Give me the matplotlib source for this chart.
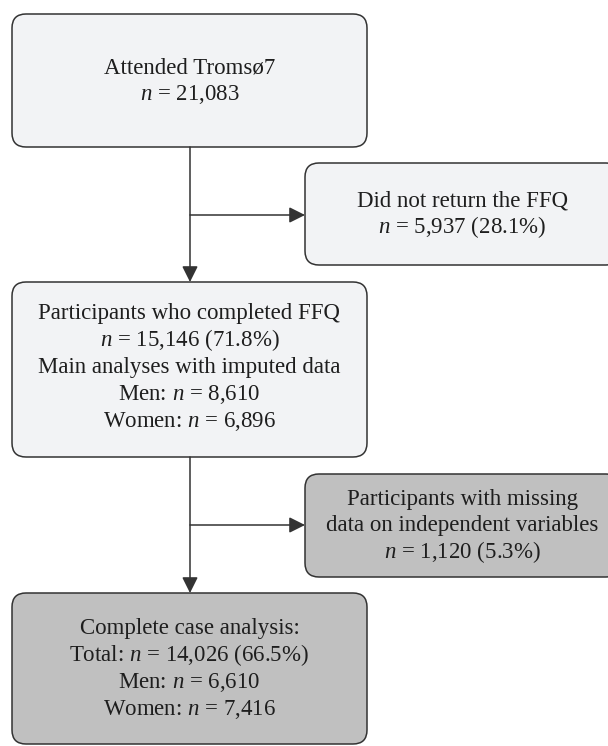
import matplotlib
matplotlib.use('Agg')
from matplotlib import pyplot as plt
from matplotlib.patches import FancyBboxPatch

plt.rcParams['font.family'] = 'Liberation Serif'
plt.rcParams['mathtext.fontset'] = 'custom'
plt.rcParams['mathtext.rm'] = 'Liberation Serif'
plt.rcParams['mathtext.it'] = 'Liberation Serif:italic'

# box texts
attended = ['Attended Tromsø7', '$n$ = 21,083']
no_ffq = ['Did not return the FFQ', '$n$ = 5,937 (28.1%)']
completed = ['Participants who completed FFQ', '$n$ = 15,146 (71.8%)',
             'Main analyses with imputed data', 'Men: $n$ = 8,610',
             'Women: $n$ = 6,896']
missing = ['Participants with missing', 'data on independent variables',
           '$n$ = 1,120 (5.3%)']
complete_case = ['Complete case analysis:', 'Total: $n$ = 14,026 (66.5%)',
                 'Men: $n$ = 6,610', 'Women: $n$ = 7,416']

light = '#f2f3f5'
gray = '#c0c0c0'
edge = '#333333'

fig = plt.figure(figsize=(6.08, 7.46), dpi=100)
ax = fig.add_axes([0, 0, 1, 1])
ax.set_xlim(0, 608)
ax.set_ylim(746, 0)
ax.axis('off')


def box(x0, y0, x1, y1, lines, fill, step=27, shift=6):
    ax.add_patch(FancyBboxPatch((x0, y0), x1 - x0, y1 - y0,
                                boxstyle='round,pad=0,rounding_size=14',
                                fc=fill, ec=edge, lw=1.1))
    cx = (x0 + x1) / 2
    cy = (y0 + y1) / 2
    n = len(lines)
    for i, line in enumerate(lines):
        y = cy + (i - (n - 1) / 2) * step
        ax.text(cx, y + shift, line, ha='center', va='baseline',
                fontsize=16.5, color='#1e1e1e')


def arrow(x0, y0, x1, y1):
    ax.annotate('', xy=(x1, y1), xytext=(x0, y0),
                arrowprops=dict(arrowstyle='-|>,head_length=0.8,head_width=0.4',
                                mutation_scale=12, color=edge, lw=1.1,
                                shrinkA=0, shrinkB=0))


box(12, 14, 367, 147, attended, light)
box(305, 163, 620, 265, no_ffq, light)
box(12, 282, 367, 457, completed, light, shift=3.5)
box(305, 474, 620, 577, missing, gray)
box(12, 593, 367, 744, complete_case, gray)

arrow(190, 147, 190, 282)
arrow(190, 215, 305, 215)
arrow(190, 457, 190, 593)
arrow(190, 525, 305, 525)

plt.savefig('out.png', dpi=100)
